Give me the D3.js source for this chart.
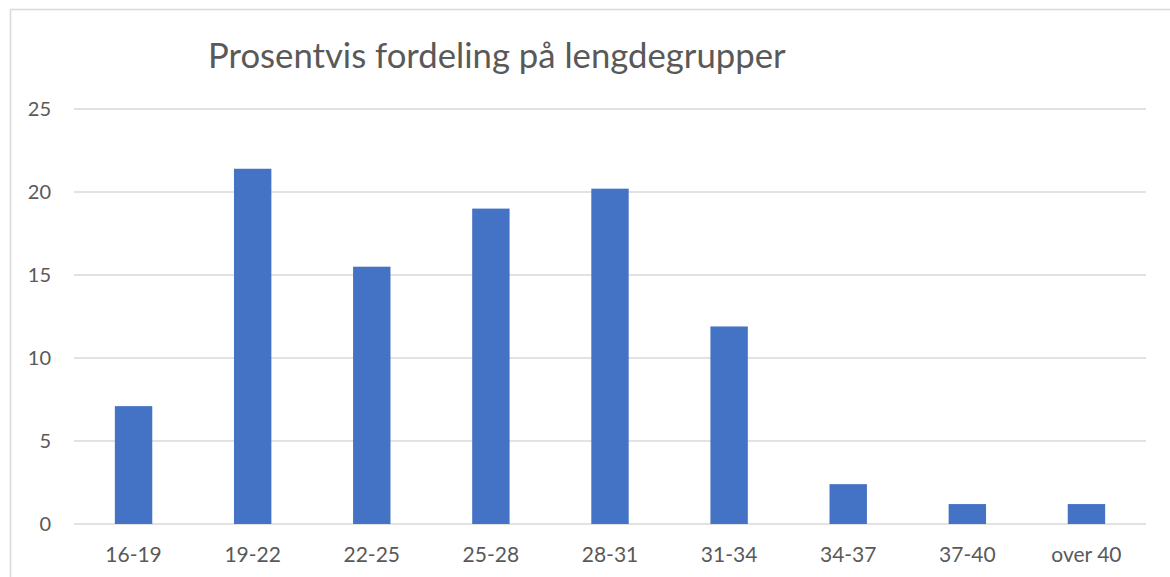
<!DOCTYPE html>
<html>
<head>
<meta charset="utf-8">
<script src="https://cdn.jsdelivr.net/npm/d3@7"></script>
<style>
  html, body { margin: 0; background: #fff; }
  svg { display: block; font-family: Lato, "Open Sans", sans-serif; }
</style>
</head>
<body>
<svg id="chart" width="1170" height="577"></svg>
<script>
const categories = ['16-19', '19-22', '22-25', '25-28', '28-31', '31-34', '34-37', '37-40', 'over 40']
const values = [7.1, 21.4, 15.5, 19.0, 20.2, 11.9, 2.4, 1.2, 1.2]
const yTicks = [0, 5, 10, 15, 20, 25]
const title = 'Prosentvis fordeling på lengdegrupper'

const svg = d3.select('#chart')
const plot = {left: 74, right: 1146, top: 109, bottom: 524}

// chart area border
svg.append('rect')
  .attr('x', 10.5).attr('y', 9.5)
  .attr('width', 1175).attr('height', 600)
  .attr('fill', 'none').attr('stroke', '#d9d9d9').attr('stroke-width', 1.5)

const x = d3.scaleBand().domain(categories).range([plot.left, plot.right])
const y = d3.scaleLinear().domain([0, 25]).range([plot.bottom, plot.top])

// gridlines
svg.append('g').selectAll('line').data(yTicks).join('line')
  .attr('x1', plot.left).attr('x2', plot.right)
  .attr('y1', d => y(d)).attr('y2', d => y(d))
  .attr('stroke', '#d9d9d9').attr('stroke-width', 1.5)

// y labels
svg.append('g').selectAll('text').data(yTicks).join('text')
  .attr('x', 51).attr('y', d => y(d))
  .attr('dy', '0.35em')
  .attr('text-anchor', 'end')
  .attr('fill', '#595959').attr('font-size', 20)
  .text(d => d)

// bars
const barW = x.bandwidth() * 0.314
svg.append('g').selectAll('rect').data(values).join('rect')
  .attr('x', (d, i) => x(categories[i]) + x.bandwidth() / 2 - barW / 2)
  .attr('y', d => y(d))
  .attr('width', barW)
  .attr('height', d => y(0) - y(d))
  .attr('fill', '#4472c4')

// x labels
svg.append('g').selectAll('text').data(categories).join('text')
  .attr('x', d => x(d) + x.bandwidth() / 2)
  .attr('y', 562)
  .attr('text-anchor', 'middle')
  .attr('fill', '#595959').attr('font-size', 21)
  .text(d => d)

svg.append('text')
  .attr('x', 208).attr('y', 68)
  .attr('fill', '#595959').attr('font-size', 34.7)
  .text(title)
</script>
</body>
</html>
